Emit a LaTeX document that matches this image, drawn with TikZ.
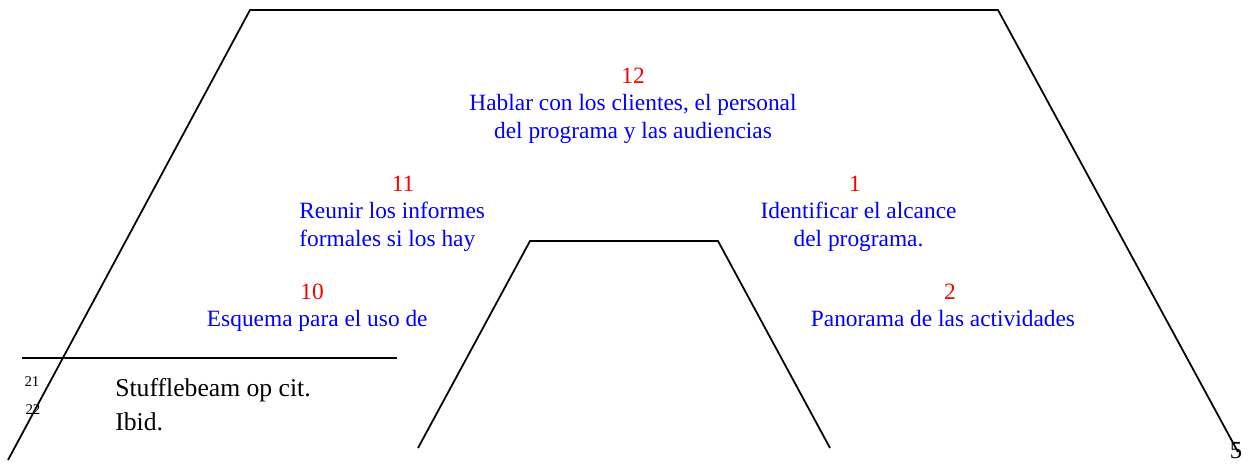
\documentclass[tikz,border=0pt]{standalone}
\usepackage{fontspec}
\setmainfont{Liberation Serif}
\usetikzlibrary{positioning}
\definecolor{numred}{RGB}{255,0,0}
\definecolor{stepblue}{RGB}{0,0,255}
\tikzset{
  frame/.style={draw=black, line width=1pt},
  stepnum/.style={inner sep=0pt, text=numred, font=\fontsize{13.3}{15}\selectfont},
  steptext/.style={inner sep=0pt, text=stepblue, align=center, font=\fontsize{13.3}{15.9}\selectfont},
  notetext/.style={inner sep=0pt, anchor=west, font=\fontsize{14.6}{16}\selectfont},
  notemark/.style={inner sep=0pt, font=\fontsize{8.5}{9}\selectfont}
}
\begin{document}
\begin{tikzpicture}[x=0.02cm, y=-0.02cm]
  \useasboundingbox (0,0) rectangle (1250,464);

  % Outer trapezoid
  \coordinate (otl) at (250,10);
  \coordinate (otr) at (998,10);
  \coordinate (obl) at (8,460);
  \coordinate (obr) at (1238,452);
  \draw[frame] (obl) -- (otl) -- (otr) -- (obr);

  % Inner trapezoid
  \coordinate (itl) at (530,241);
  \coordinate (itr) at (718,241);
  \coordinate (ibl) at (418,448);
  \coordinate (ibr) at (830,448);
  \draw[frame] (ibl) -- (itl) -- (itr) -- (ibr);

  % Step 12
  \node[stepnum] (n12) at (633,76) {12};
  \node[steptext, below=5.5pt of n12] (t12) {Hablar con los clientes, el personal\\del programa y las audiencias};

  % Step 11
  \node[stepnum] (n11) at (403,184) {11};
  \node[steptext, align=left, anchor=north west] (t11) at (299,202) {Reunir los informes\\formales si los hay};

  % Step 1
  \node[stepnum] (n1) at (855,184) {1};
  \node[steptext, below=5.5pt of n1, xshift=2pt] (t1) {Identificar el alcance\\del programa.};

  % Step 10
  \node[stepnum] (n10) at (312,292) {10};
  \node[steptext, below=5.5pt of n10, xshift=3pt] (t10) {Esquema para el uso de};

  % Step 2
  \node[stepnum] (n2) at (950,292) {2};
  \node[steptext, below=5.5pt of n2, xshift=-4pt] (t2) {Panorama de las actividades};

  % Footnotes
  \coordinate (rulel) at (22,358);
  \coordinate (ruler) at (397,358);
  \draw[line width=1pt] (rulel) -- (ruler);
  \node[notemark] (m21) at (32,382) {21};
  \node[notemark] (m22) at (33,410) {22};
  \node[notetext] (f21) at (115,390) {Stufflebeam op cit.};
  \node[notetext] (f22) at (115,422) {Ibid.};

  % Page number
  \node[inner sep=0pt, font=\fontsize{14}{15}\selectfont] (page) at (1236,451) {5};
\end{tikzpicture}
\end{document}
